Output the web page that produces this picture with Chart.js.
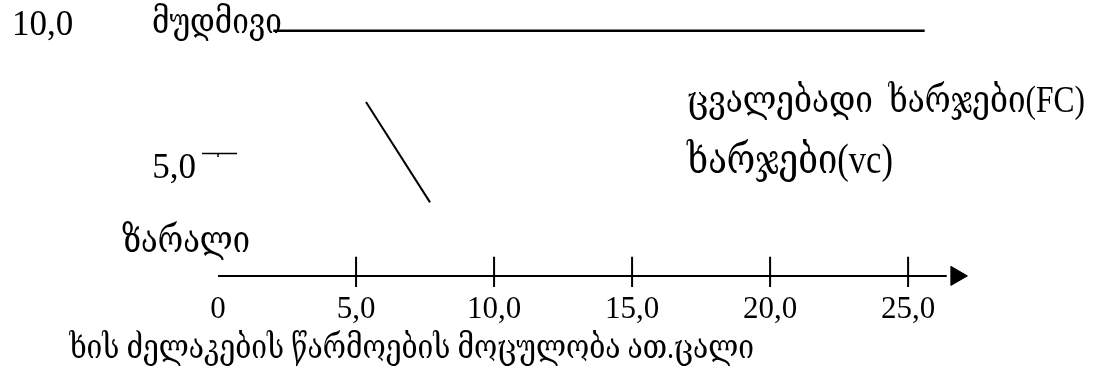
<!DOCTYPE html>
<html>
<head>
<meta charset="utf-8">
<script src="https://cdn.jsdelivr.net/npm/chart.js@4"></script>
<style>
  html, body { margin: 0; padding: 0; background: #fff; }
  #wrap { width: 1098px; height: 369px; }
</style>
</head>
<body>
<div id="wrap"><canvas id="chart"></canvas></div>
<script>
// x axis: production volume (thousand pieces)
const xTicks = [0, 5, 10, 15, 20, 25];
const xTickLabels = ["0", "5,0", "10,0", "15,0", "20,0", "25,0"];
// y axis ticks
const yTicks = [5, 10];
const yTickLabels = ["5,0", "10,0"];
// fixed costs line (level and extent on x)
const fixedCost = 10;
const fixedCostX = [2.0, 25.6];
// variable costs segment
const varCostX = [5.36, 7.68];
const varCostY = [7.1, 3.0];
// texts
const fixedLabel = "მუდმივი";
const fcLabel = "ცვალებადი  ხარჯები(FC)";
const vcLabel = "ხარჯები(vc)";
const lossLabel = "ზარალი";
const xTitle = "ხის ძელაკების წარმოების მოცულობა ათ.ცალი";

const serif = '"Liberation Serif", "DejaVu Serif", "DejaVu Sans", serif';

// font size that makes text fill given width
function fitSize(ctx, text, width) {
  ctx.font = `100px ${serif}`;
  return (100 * width) / ctx.measureText(text).width;
}

//tick marks on the x axis (gaps between them)
const tickMarks = [];
xTicks.slice(1).forEach((t) => {
  tickMarks.push({ x: t, y: 0.78 }, { x: t, y: -0.45 }, { x: t, y: null });
});

const line = (data, extra = {}) => ({
  type: "line",
  data: data,
  borderColor: "#000",
  borderWidth: 2,
  pointRadius: 0,
  fill: false,
  spanGaps: false,
  clip: false,
  ...extra,
});

// texts plugin
const textPlugin = {
  id: "texts",
  afterDraw(chart) {
    const ctx = chart.ctx;
    const xs = chart.scales.x;
    const ys = chart.scales.y;
    ctx.save();
    ctx.fillStyle = "#000";
    ctx.textBaseline = "alphabetic";

    // x tick labels
    ctx.font = `31px ${serif}`;
    ctx.textAlign = "center";
    xTicks.forEach((t, i) => {
      ctx.fillText(xTickLabels[i], xs.getPixelForValue(t), ys.getPixelForValue(0) + 42);
    });

    // y tick labels
    ctx.font = `35px ${serif}`;
    ctx.textAlign = "right";
    ctx.fillText(yTickLabels[0], 196, ys.getPixelForValue(yTicks[0]) + 25);
    ctx.textAlign = "left";
    ctx.fillText(yTickLabels[1], 12, ys.getPixelForValue(yTicks[1]) + 4);

    // annotations (georgian glyphs a bit taller, like the original font)
    const put = (text, x, y, w, align = "left") => {
      ctx.save();
      ctx.font = `${fitSize(ctx, text, w)}px ${serif}`;
      ctx.textAlign = align;
      ctx.translate(x, y);
      ctx.scale(1, 1.2);
      ctx.fillText(text, 0, 0);
      ctx.restore();
    };
    put(fixedLabel, 152, 33, 130);
    put(fcLabel, 687, 112, 398);
    put(vcLabel, 687, 173, 206);
    put(lossLabel, 122, 252, 128);

    // x axis title
    const s = fitSize(ctx, "ელაკების წარმოების მოცუ", 393);
    ctx.font = `100px ${serif}`;
    const w = (ctx.measureText(xTitle).width * s) / 100;
    put(xTitle, 754, 358, w, "right");
    ctx.restore();
  },
};

new Chart(document.getElementById("chart"), {
  data: {
    datasets: [
      // fixed costs
      line([
        { x: fixedCostX[0], y: fixedCost },
        { x: fixedCostX[1], y: fixedCost },
      ], { borderWidth: 2.5 }),
      // variable costs segment
      line([
        { x: varCostX[0], y: varCostY[0] },
        { x: varCostX[1], y: varCostY[1] },
      ]),
      // x axis
      line([
        { x: xTicks[0], y: 0 },
        { x: 26.4, y: 0 },
      ]),
      // x axis ticks
      line(tickMarks),
      // y tick at 5,0
      line([
        { x: -0.58, y: yTicks[0] },
        { x: 0.69, y: yTicks[0] },
      ], { borderWidth: 1.5 }),
      line([
        { x: 0, y: yTicks[0] },
        { x: 0, y: yTicks[0] - 0.15 },
      ], { borderWidth: 1.5 }),
      // arrow head
      {
        type: "scatter",
        data: [{ x: 26.75, y: 0 }],
        pointStyle: "triangle",
        rotation: 90,
        pointRadius: 11,
        backgroundColor: "#000",
        borderColor: "#000",
        borderWidth: 1,
        clip: false,
      },
    ],
  },
  options: {
    responsive: true,
    maintainAspectRatio: false,
    animation: false,
    layout: { padding: 0, autoPadding: false },
    plugins: {
      legend: { display: false },
      tooltip: { enabled: false },
    },
    scales: {
      x: { type: "linear", min: -7.9, max: 31.88, display: false },
      y: { type: "linear", min: -3.8, max: 11.26, display: false },
    },
  },
  plugins: [textPlugin],
});
</script>
</body>
</html>
